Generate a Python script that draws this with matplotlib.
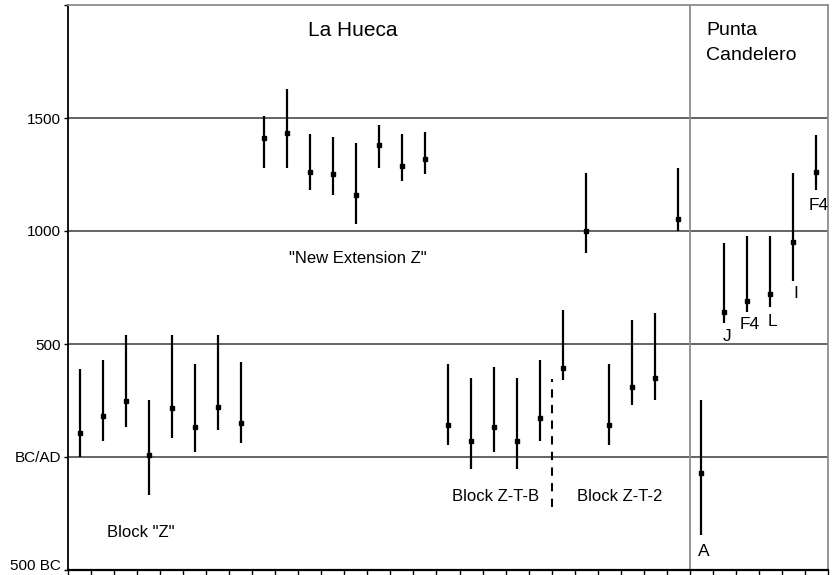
import numpy as np
import matplotlib
matplotlib.use('Agg')
import matplotlib.pyplot as plt


# calibrated dates (AD positive, BC negative), one per sample slot
mids = [106, 181, 248, 8, 217, 133, 221, 151,
        1412, 1434, 1261, 1252, 1159, 1381, 1288, 1319,
        142, 71, 133, 71, 173,
        394, 1000, 142, 310, 350, 1053,
        -69, 642, 690, 721, 951, 1261]
lows = [0, 71, 133, -170, 84, 22, 120, 62,
        1279, 1279, 1181, 1159, 1031, 1279, 1221, 1252,
        53, -51, 22, -51, 71,
        341, 902, 53, 230, 252, 1000,
        -347, 593, 642, 664, 779, 1181]
highs = [389, 429, 540, 252, 540, 411, 540, 420,
         1509, 1628, 1429, 1416, 1389, 1469, 1429, 1438,
         411, 350, 398, 350, 429,
         650, 1257, 411, 606, 637, 1279,
         252, 947, 978, 978, 1257, 1425]

# Punta Candelero sample labels (slot, text, y)
pc_slots = [27, 28, 29, 30, 31, 32]
pc_labels = ['A', 'J', 'F4', 'L', 'I', 'F4']
pc_label_y = [-420, 535, 585, 600, 725, 1115]

yticks = [-500, 0, 500, 1000, 1500, 2000]
ytick_labels = ['500 BC', 'BC/AD', '500', '1000', '1500', '']

plt.rcParams['font.family'] = ['Liberation Sans', 'DejaVu Sans']

fig = plt.figure(figsize=(8.32, 5.75), dpi=100)
ax = fig.add_axes([68 / 832, 5 / 575, 760 / 832, 565 / 575])

x = np.arange(len(mids))
n = len(mids)

# gridlines
for v in [0, 500, 1000, 1500]:
    ax.axhline(v, color='#4a4a4a', lw=1.2, zorder=1)

# divider between the two sites
ax.axvline(26.5, color='#8c8c8c', lw=1.3, zorder=1)

# dashed separator between Block Z-T-B and Z-T-2
ax.plot([20.5, 20.5], [-220, 345], color='black', lw=1.5,
        ls=(0, (4, 3.5)), zorder=2)

mids = np.array(mids)
lows = np.array(lows)
highs = np.array(highs)
ax.vlines(x, lows, highs, color='black', lw=1.6, zorder=3)
ax.plot(x, mids, ls='none', marker='s', ms=3, color='black', zorder=4)

# text
ax.text(11.85, 1885, 'La Hueca', fontsize=15, ha='center', va='center')
ax.text(27.2, 1885, 'Punta', fontsize=14, ha='left', va='center')
ax.text(27.2, 1775, 'Candelero', fontsize=14, ha='left', va='center')
ax.text(12.1, 880, '"New Extension Z"', fontsize=12, ha='center',
        va='center')
ax.text(2.67, -335, 'Block "Z"', fontsize=12, ha='center', va='center')
ax.text(18.05, -175, 'Block Z-T-B', fontsize=12, ha='center', va='center')
ax.text(23.45, -175, 'Block Z-T-2', fontsize=12, ha='center', va='center')
for s, lab, yy in zip(pc_slots, pc_labels, pc_label_y):
    ax.text(s + 0.1, yy, lab, fontsize=12.5, ha='center', va='center')

ax.set_xlim(-0.5, n - 0.5)
ax.set_ylim(-500, 2000)
ax.set_xticks(np.arange(-0.5, n, 1.0))
ax.set_xticklabels([])
ax.tick_params(axis='x', direction='out', length=5, width=1, color='black')
ax.set_yticks(yticks)
ax.set_yticklabels(ytick_labels, fontsize=11)
ax.tick_params(axis='y', direction='out', length=3, width=1, pad=2)
ax.get_yticklabels()[0].set_va('baseline')

for side in ['top', 'right']:
    ax.spines[side].set_color('#8c8c8c')
    ax.spines[side].set_linewidth(1.3)
ax.spines['left'].set_linewidth(1.3)
ax.spines['bottom'].set_linewidth(1.6)

fig.savefig('out.png', dpi=100)
